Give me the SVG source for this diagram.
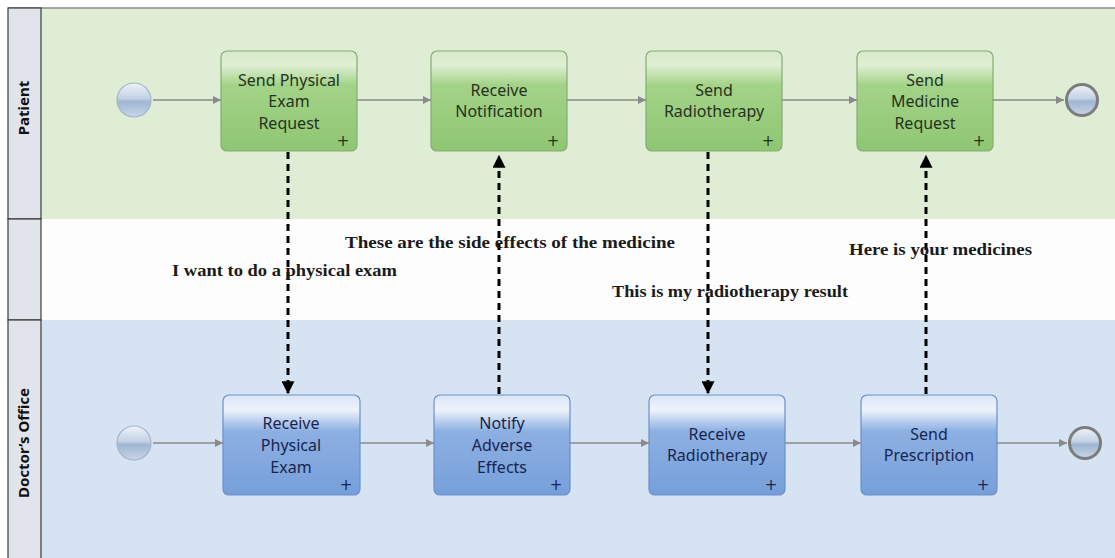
<svg xmlns="http://www.w3.org/2000/svg" width="1115" height="558" viewBox="0 0 1115 558">
  <style>
    .hdr { fill: #e1e5eb; stroke: #3a3a3a; stroke-width: 1.2; }
    .hdrtxt { font-family: "Noto Sans", "Liberation Sans", sans-serif; font-weight: bold; font-size: 15px; fill: #111; text-anchor: middle; }
    .task-g rect.box { fill: url(#gGreen); stroke: #86ab76; stroke-width: 1.2; }
    .task-b rect.box { fill: url(#gBlue); stroke: #6a8fcb; stroke-width: 1.2; }
    .ttxt { font-family: "Noto Sans", "Open Sans", sans-serif; font-size: 16px; text-anchor: middle; }
    .task-g .ttxt, .task-g .plus { fill: #26311f; }
    .task-b .ttxt, .task-b .plus { fill: #17254f; }
    .plus { font-family: "DejaVu Sans", sans-serif; font-size: 15px; text-anchor: middle; }
    .seq { stroke: #8a8a8a; stroke-width: 1.3; fill: none; marker-end: url(#seqHead); }
    .msg { stroke: #000; stroke-width: 3; stroke-dasharray: 7 5; fill: none; marker-end: url(#msgHead); }
    .lbl { font-family: "Liberation Serif", "Times New Roman", serif; font-size: 16px; fill: #1a1a1a; font-weight: bold; }
    .start { fill: url(#gEvent); stroke: #a3b6cd; stroke-width: 1.2; }
    .end { fill: url(#gEvent); stroke: #7c7c7c; stroke-width: 3; }
  </style>
  <defs>
    <linearGradient id="gGreen" x1="0" y1="0" x2="0" y2="1">
      <stop offset="0" stop-color="#d6eac9"/>
      <stop offset="0.14" stop-color="#e0efd5"/>
      <stop offset="0.34" stop-color="#a3d387"/>
      <stop offset="1" stop-color="#8ec673"/>
    </linearGradient>
    <linearGradient id="gBlue" x1="0" y1="0" x2="0" y2="1">
      <stop offset="0" stop-color="#d9e5f5"/>
      <stop offset="0.15" stop-color="#eef3fb"/>
      <stop offset="0.36" stop-color="#8db0e2"/>
      <stop offset="1" stop-color="#769fda"/>
    </linearGradient>
    <linearGradient id="gEvent" x1="0" y1="0" x2="0" y2="1">
      <stop offset="0" stop-color="#eef3f8"/>
      <stop offset="0.45" stop-color="#c3d2e4"/>
      <stop offset="0.55" stop-color="#9fb6d2"/>
      <stop offset="1" stop-color="#c9d6e6"/>
    </linearGradient>
    <marker id="seqHead" viewBox="0 0 10 10" refX="10" refY="5" markerWidth="9" markerHeight="8" markerUnits="userSpaceOnUse" orient="auto">
      <path d="M0,0 L10,5 L0,10 z" fill="#8a8a8a"/>
    </marker>
    <marker id="msgHead" viewBox="0 0 10 10" refX="9" refY="5" markerWidth="13" markerHeight="13" markerUnits="userSpaceOnUse" orient="auto">
      <path d="M0,0 L10,5 L0,10 z" fill="#000"/>
    </marker>
  </defs>

  <rect width="1115" height="558" fill="#ffffff"/>

  <!-- lanes -->
  <g id="lanes">
    <rect x="41" y="8" width="1074" height="211" fill="#dfedd5"/>
    <rect x="41" y="219" width="1074" height="101" fill="#fdfdfd"/>
    <rect x="41" y="320" width="1074" height="238" fill="#d6e3f2"/>
    <line x1="8" y1="8" x2="1115" y2="8" stroke="#8a8a8a" stroke-width="1.5"/>
    <rect class="hdr" x="8" y="8" width="33" height="211"/>
    <rect class="hdr" x="8" y="219" width="33" height="101"/>
    <rect class="hdr" x="8" y="320" width="33" height="240"/>
    <text class="hdrtxt" transform="translate(29,108) rotate(-90)">Patient</text>
    <text class="hdrtxt" transform="translate(29,443) rotate(-90)">Doctor’s Office</text>
  </g>

  <!-- events -->
  <g id="startPatient"><circle class="start" cx="134" cy="100" r="17"/></g>
  <g id="endPatient"><circle class="end" cx="1082" cy="100" r="15.5"/></g>
  <g id="startDoctor"><circle class="start" cx="134" cy="443" r="17"/></g>
  <g id="endDoctor"><circle class="end" cx="1085" cy="443" r="15.5"/></g>

  <!-- patient tasks -->
  <g id="sendPhysicalExamRequest" class="task-g">
    <rect class="box" x="221" y="51" width="136" height="100" rx="6"/>
    <text class="ttxt" x="289" y="86">Send Physical</text>
    <text class="ttxt" x="289" y="107">Exam</text>
    <text class="ttxt" x="289" y="129">Request</text>
    <text class="plus" x="343" y="146">+</text>
  </g>
  <g id="receiveNotification" class="task-g">
    <rect class="box" x="431" y="51" width="136" height="100" rx="6"/>
    <text class="ttxt" x="499" y="96">Receive</text>
    <text class="ttxt" x="499" y="117">Notification</text>
    <text class="plus" x="553" y="146">+</text>
  </g>
  <g id="sendRadiotherapy" class="task-g">
    <rect class="box" x="646" y="51" width="136" height="100" rx="6"/>
    <text class="ttxt" x="714" y="96">Send</text>
    <text class="ttxt" x="714" y="117">Radiotherapy</text>
    <text class="plus" x="768" y="146">+</text>
  </g>
  <g id="sendMedicineRequest" class="task-g">
    <rect class="box" x="857" y="51" width="136" height="100" rx="6"/>
    <text class="ttxt" x="925" y="86">Send</text>
    <text class="ttxt" x="925" y="107">Medicine</text>
    <text class="ttxt" x="925" y="129">Request</text>
    <text class="plus" x="979" y="146">+</text>
  </g>

  <!-- doctor tasks -->
  <g id="receivePhysicalExam" class="task-b">
    <rect class="box" x="223" y="395" width="137" height="100" rx="6"/>
    <text class="ttxt" x="291" y="429">Receive</text>
    <text class="ttxt" x="291" y="451">Physical</text>
    <text class="ttxt" x="291" y="473">Exam</text>
    <text class="plus" x="346" y="490">+</text>
  </g>
  <g id="notifyAdverseEffects" class="task-b">
    <rect class="box" x="434" y="395" width="136" height="100" rx="6"/>
    <text class="ttxt" x="502" y="429">Notify</text>
    <text class="ttxt" x="502" y="451">Adverse</text>
    <text class="ttxt" x="502" y="473">Effects</text>
    <text class="plus" x="556" y="490">+</text>
  </g>
  <g id="receiveRadiotherapy" class="task-b">
    <rect class="box" x="649" y="395" width="136" height="100" rx="6"/>
    <text class="ttxt" x="717" y="440">Receive</text>
    <text class="ttxt" x="717" y="461">Radiotherapy</text>
    <text class="plus" x="771" y="490">+</text>
  </g>
  <g id="sendPrescription" class="task-b">
    <rect class="box" x="861" y="395" width="136" height="100" rx="6"/>
    <text class="ttxt" x="929" y="440">Send</text>
    <text class="ttxt" x="929" y="461">Prescription</text>
    <text class="plus" x="983" y="490">+</text>
  </g>

  <!-- connectors -->
  <g id="connectors">
    <line class="seq" x1="153" y1="100" x2="221" y2="100"/>
    <line class="seq" x1="357" y1="100" x2="431" y2="100"/>
    <line class="seq" x1="567" y1="100" x2="646" y2="100"/>
    <line class="seq" x1="782" y1="100" x2="857" y2="100"/>
    <line class="seq" x1="993" y1="100" x2="1064" y2="100"/>

    <line class="seq" x1="153" y1="443" x2="223" y2="443"/>
    <line class="seq" x1="360" y1="443" x2="434" y2="443"/>
    <line class="seq" x1="570" y1="443" x2="649" y2="443"/>
    <line class="seq" x1="785" y1="443" x2="861" y2="443"/>
    <line class="seq" x1="997" y1="443" x2="1067" y2="443"/>

    <line class="msg" x1="288" y1="152" x2="288" y2="393"/>
    <line class="msg" x1="499" y1="394" x2="499" y2="156"/>
    <line class="msg" x1="708" y1="152" x2="708" y2="393"/>
    <line class="msg" x1="926" y1="394" x2="926" y2="156"/>

    <text class="lbl" x="345" y="248" textLength="330" lengthAdjust="spacingAndGlyphs">These are the side effects of the medicine</text>
    <text class="lbl" x="172" y="276" textLength="225" lengthAdjust="spacingAndGlyphs">I want to do a physical exam</text>
    <text class="lbl" x="849" y="255" textLength="183" lengthAdjust="spacingAndGlyphs">Here is your medicines</text>
    <text class="lbl" x="612" y="297" textLength="236" lengthAdjust="spacingAndGlyphs">This is my radiotherapy result</text>
  </g>
</svg>
